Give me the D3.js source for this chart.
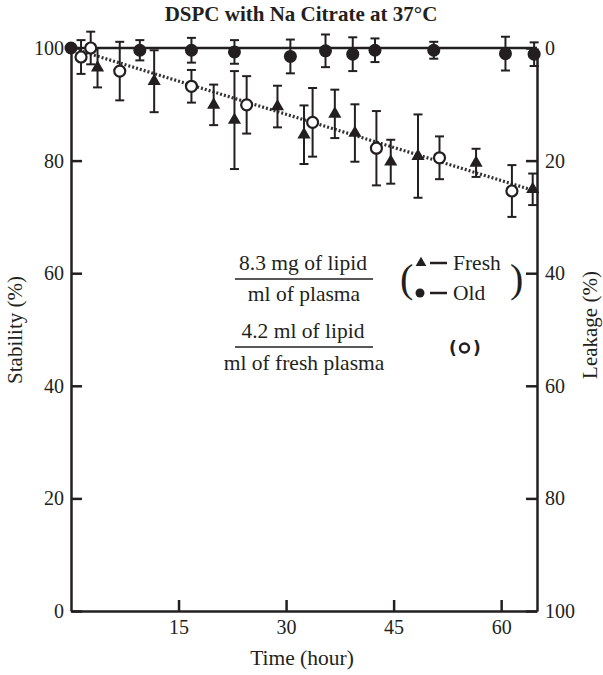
<!DOCTYPE html>
<html>
<head>
<meta charset="utf-8">
<script src="https://cdn.jsdelivr.net/npm/d3@7"></script>
<style>
  body { margin: 0; background: #fff; }
  svg text { font-family: "Liberation Serif", "DejaVu Serif", serif; fill: #231f20; }
</style>
</head>
<body>
<svg id="chart" width="603" height="675"></svg>
<script>
// values (time in hours, stability in %)
const freshTime = [3.7, 11.6, 19.9, 22.8, 28.8, 32.5, 36.8, 39.6, 44.6, 48.4, 56.5, 64.4];
const freshVal  = [96.5, 94.1, 89.9, 87.2, 89.6, 84.6, 88.3, 84.9, 79.8, 80.8, 79.6, 74.9];
const freshErr  = [3.5, 5.5, 3.6, 8.7, 3.7, 5.2, 4.3, 5.1, 3.9, 7.4, 2.5, 2.8];

const oldTime = [0, 9.6, 16.8, 22.8, 30.6, 35.5, 39.3, 42.4, 50.6, 60.6, 64.6];
const oldVal  = [100, 99.6, 99.6, 99.3, 98.5, 99.5, 98.9, 99.6, 99.6, 99.0, 98.9];
const oldErr  = [0, 1.8, 2.2, 2.1, 3.0, 2.9, 3.0, 2.1, 1.5, 3.0, 2.1];

const openTime = [1.4, 2.75, 6.8, 16.8, 24.5, 33.7, 42.6, 51.4, 61.5];
const openVal  = [98.4, 100, 95.9, 93.2, 89.9, 86.8, 82.2, 80.5, 74.6];
const openErr  = [3.0, 2.9, 5.2, 2.9, 5.1, 6.1, 6.6, 3.8, 4.6];

// fitted lines (start/end)
const fitTime  = [0, 65];
const oldFit   = [100, 100];
const freshFit = [100, 74.5];

const xTicks = [15, 30, 45, 60];
const yTicks = [0, 20, 40, 60, 80, 100];

const svg = d3.select('#chart');
const ink = '#231f20';

const x = d3.scaleLinear().domain([0, 65]).range([71, 537]);
const y = d3.scaleLinear().domain([0, 100]).range([611, 48]);
const yR = d3.scaleLinear().domain([0, 100]).range([48, 611]);

// axes
const gx = svg.append('g').attr('transform', 'translate(0,' + y(0) + ')')
  .call(d3.axisBottom(x).tickValues(xTicks).tickSize(-11).tickSizeOuter(0).tickPadding(9));
const gy = svg.append('g').attr('transform', 'translate(' + x(0) + ',0)')
  .call(d3.axisLeft(y).tickValues(yTicks).tickSize(-11).tickSizeOuter(0).tickPadding(7));
const gr = svg.append('g').attr('transform', 'translate(' + x(65) + ',0)')
  .call(d3.axisRight(yR).tickValues(yTicks).tickSize(-11).tickSizeOuter(0).tickPadding(8));

[gx, gy, gr].forEach(g => {
  g.selectAll('.domain').attr('stroke', ink).attr('stroke-width', 2.5);
  g.selectAll('.tick line').attr('stroke', ink).attr('stroke-width', 2.5);
  g.selectAll('.tick text').style('font-size', '20px').attr('fill', ink);
});

// titles
svg.append('text').attr('x', 301).attr('y', 21).attr('text-anchor', 'middle')
  .style('font-size', '21px').style('font-weight', 'bold').text('DSPC with Na Citrate at 37°C');
svg.append('text').attr('x', 302).attr('y', 665).attr('text-anchor', 'middle')
  .style('font-size', '21.5px').text('Time (hour)');
svg.append('text').attr('transform', 'translate(22,330) rotate(-90)').attr('text-anchor', 'middle')
  .style('font-size', '21px').text('Stability (%)');
svg.append('text').attr('transform', 'translate(597,325) rotate(-90)').attr('text-anchor', 'middle')
  .style('font-size', '21px').text('Leakage (%)');

// fit lines
const line = d3.line().x(d => x(d[0])).y(d => y(d[1]));
svg.append('path').datum(d3.zip(fitTime, oldFit)).attr('d', line)
  .attr('fill', 'none').attr('stroke', ink).attr('stroke-width', 2.5);
svg.append('path').datum(d3.zip(fitTime, freshFit)).attr('d', line)
  .attr('fill', 'none').attr('stroke', '#333').attr('stroke-width', 3.2).attr('stroke-dasharray', '2 2');

// error bars
function errBars(ts, vs, es) {
  const d = d3.zip(ts, vs, es).filter(p => p[2] > 0);
  const g = svg.append('g').attr('stroke', ink).attr('stroke-width', 2);
  g.selectAll('line.v').data(d).join('line').attr('class', 'v')
    .attr('x1', p => x(p[0])).attr('x2', p => x(p[0]))
    .attr('y1', p => y(p[1] + p[2])).attr('y2', p => y(p[1] - p[2]));
  g.selectAll('line.t').data(d).join('line').attr('class', 't')
    .attr('x1', p => x(p[0]) - 4.5).attr('x2', p => x(p[0]) + 4.5)
    .attr('y1', p => y(p[1] + p[2])).attr('y2', p => y(p[1] + p[2]));
  g.selectAll('line.b').data(d).join('line').attr('class', 'b')
    .attr('x1', p => x(p[0]) - 4.5).attr('x2', p => x(p[0]) + 4.5)
    .attr('y1', p => y(p[1] - p[2])).attr('y2', p => y(p[1] - p[2]));
}
errBars(oldTime, oldVal, oldErr);
errBars(freshTime, freshVal, freshErr);
errBars(openTime, openVal, openErr);

const tri = d3.symbol().type(d3.symbolTriangle).size(75);

svg.append('g').selectAll('circle').data(d3.zip(oldTime, oldVal)).join('circle')
  .attr('cx', d => x(d[0])).attr('cy', d => y(d[1])).attr('r', 6.5).attr('fill', ink);
svg.append('g').selectAll('path').data(d3.zip(freshTime, freshVal)).join('path')
  .attr('d', tri).attr('transform', d => 'translate(' + x(d[0]) + ',' + y(d[1]) + ')').attr('fill', ink);
svg.append('g').selectAll('circle').data(d3.zip(openTime, openVal)).join('circle')
  .attr('cx', d => x(d[0])).attr('cy', d => y(d[1])).attr('r', 5.5)
  .attr('fill', '#fff').attr('stroke', ink).attr('stroke-width', 2.2);

// concentration notes
const notes = svg.append('g').style('font-size', '21.5px').attr('text-anchor', 'middle');
notes.append('text').attr('x', 303).attr('y', 270).text('8.3 mg of lipid');
notes.append('line').attr('x1', 235).attr('x2', 373).attr('y1', 279).attr('y2', 279).attr('stroke', ink).attr('stroke-width', 1.6);
notes.append('text').attr('x', 304).attr('y', 301).text('ml of plasma');
notes.append('text').attr('x', 303).attr('y', 338).text('4.2 ml of lipid');
notes.append('line').attr('x1', 235).attr('x2', 373).attr('y1', 347).attr('y2', 347).attr('stroke', ink).attr('stroke-width', 1.6);
notes.append('text').attr('x', 304).attr('y', 370).text('ml of fresh plasma');

// legend
const lg = svg.append('g');
lg.append('text').attr('x', 400).attr('y', 292).style('font-size', '40px').text('(');
lg.append('text').attr('x', 510).attr('y', 292).style('font-size', '40px').text(')');
lg.append('path').attr('d', d3.symbol().type(d3.symbolTriangle).size(50))
  .attr('transform', 'translate(421,263)').attr('fill', ink);
lg.append('line').attr('x1', 430).attr('x2', 447).attr('y1', 263).attr('y2', 263).attr('stroke', ink).attr('stroke-width', 2.5);
lg.append('text').attr('x', 453).attr('y', 270).style('font-size', '21.5px').text('Fresh');
lg.append('circle').attr('cx', 420).attr('cy', 293).attr('r', 4.5).attr('fill', ink);
lg.append('line').attr('x1', 430).attr('x2', 447).attr('y1', 293).attr('y2', 293).attr('stroke', ink).attr('stroke-width', 2.5);
lg.append('text').attr('x', 453).attr('y', 300).style('font-size', '21.5px').text('Old');
lg.append('text').attr('x', 453).attr('y', 354).attr('text-anchor', 'middle').style('font-family', 'DejaVu Sans').style('font-size', '17px').style('font-weight', 'bold').text('(');
lg.append('circle').attr('cx', 464.5).attr('cy', 348).attr('r', 4.5).attr('fill', 'none').attr('stroke', ink).attr('stroke-width', 2.4);
lg.append('text').attr('x', 477).attr('y', 354).attr('text-anchor', 'middle').style('font-family', 'DejaVu Sans').style('font-size', '17px').style('font-weight', 'bold').text(')');
</script>
</body>
</html>
